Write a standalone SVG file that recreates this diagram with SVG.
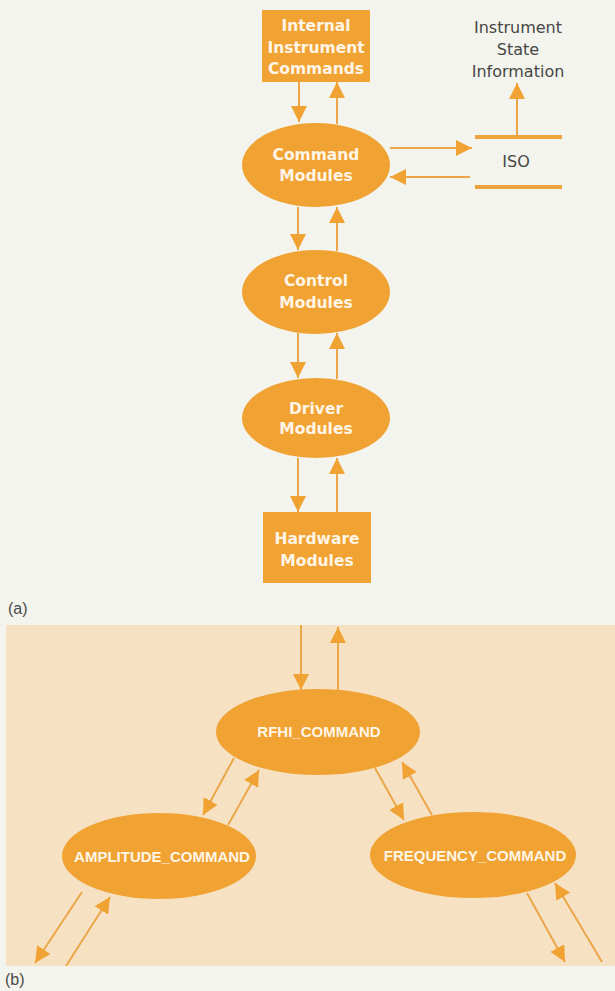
<svg xmlns="http://www.w3.org/2000/svg" width="615" height="991" viewBox="0 0 615 991">
<defs>
<style>
.node{fill:#f0a232;}
.nt{fill:#fff5e6;font-family:"DejaVu Sans",sans-serif;font-weight:bold;font-size:15.5px;text-anchor:middle;}
.nb{fill:#fff5e6;font-family:"Liberation Sans",Arial,sans-serif;font-weight:bold;font-size:15px;text-anchor:middle;}
.lbl{fill:#464644;font-family:"DejaVu Sans",sans-serif;font-size:16px;text-anchor:middle;}
.cap{fill:#4a4a48;font-family:"Liberation Sans",Arial,sans-serif;font-size:16px;}
.c{stroke:#eca64a;stroke-width:2;fill:none;marker-end:url(#ah);}
.iso{stroke:#eda43e;stroke-width:4;}
</style>
<marker id="ah" markerUnits="userSpaceOnUse" markerWidth="16" markerHeight="16" refX="16" refY="8" orient="auto" viewBox="0 0 16 16">
<path d="M0,0 L16,8 L0,16 z" fill="#f0a232"/>
</marker>
</defs>
<rect x="0" y="0" width="615" height="991" fill="#f4f4ee"/>
<rect x="6" y="625" width="609" height="341" fill="#f6e1c2"/>

<g id="connectors">
<line class="c" x1="299" y1="82" x2="299" y2="122"/>
<line class="c" x1="337" y1="124" x2="337" y2="82"/>
<line class="c" x1="390" y1="148" x2="472" y2="148"/>
<line class="c" x1="470" y1="177" x2="390" y2="177"/>
<line class="c" x1="517" y1="137" x2="517" y2="83"/>
<line class="c" x1="298" y1="207" x2="298" y2="250"/>
<line class="c" x1="337" y1="251" x2="337" y2="207"/>
<line class="c" x1="298" y1="333" x2="298" y2="378"/>
<line class="c" x1="337" y1="379" x2="337" y2="333"/>
<line class="c" x1="298" y1="458" x2="298" y2="512"/>
<line class="c" x1="337" y1="512" x2="337" y2="458"/>
<line class="c" x1="301" y1="625" x2="301" y2="690"/>
<line class="c" x1="338" y1="691" x2="338" y2="627"/>
<line class="c" x1="234" y1="758" x2="203" y2="815"/>
<line class="c" x1="228" y1="825" x2="259" y2="770"/>
<line class="c" x1="375" y1="768" x2="404" y2="820"/>
<line class="c" x1="432" y1="815" x2="402" y2="762"/>
<line class="c" x1="82" y1="892" x2="35" y2="963"/>
<line class="c" x1="66" y1="966" x2="110" y2="897"/>
<line class="c" x1="527" y1="893" x2="565" y2="962"/>
<line class="c" x1="602" y1="962" x2="555" y2="883"/>
</g>

<g id="iso">
<line class="iso" x1="475" y1="137" x2="562" y2="137"/>
<line class="iso" x1="475" y1="187" x2="562" y2="187"/>
<text class="lbl" x="516" y="167" font-size="17px">ISO</text>
</g>

<g id="state-info">
<text class="lbl" x="518" y="33">Instrument</text>
<text class="lbl" x="518" y="55">State</text>
<text class="lbl" x="518" y="77">Information</text>
</g>

<g id="internal-commands">
<rect class="node" x="262" y="10" width="108" height="72"/>
<text class="nt" x="316" y="31">Internal</text>
<text class="nt" x="316" y="53">Instrument</text>
<text class="nt" x="316" y="74">Commands</text>
</g>

<g id="command-modules">
<ellipse class="node" cx="316" cy="165" rx="74" ry="42"/>
<text class="nt" x="316" y="160">Command</text>
<text class="nt" x="316" y="181">Modules</text>
</g>

<g id="control-modules">
<ellipse class="node" cx="316" cy="292" rx="74" ry="42"/>
<text class="nt" x="316" y="286">Control</text>
<text class="nt" x="316" y="308">Modules</text>
</g>

<g id="driver-modules">
<ellipse class="node" cx="316" cy="418" rx="74" ry="40"/>
<text class="nt" x="316" y="414">Driver</text>
<text class="nt" x="316" y="434">Modules</text>
</g>

<g id="hardware-modules">
<rect class="node" x="263" y="512" width="108" height="71"/>
<text class="nt" x="317" y="544">Hardware</text>
<text class="nt" x="317" y="566">Modules</text>
</g>

<g id="rfhi-command">
<ellipse class="node" cx="318" cy="732" rx="102" ry="43"/>
<text class="nb" x="319" y="737">RFHI_COMMAND</text>
</g>

<g id="amplitude-command">
<ellipse class="node" cx="159" cy="856" rx="97" ry="43"/>
<text class="nb" x="162" y="862">AMPLITUDE_COMMAND</text>
</g>

<g id="frequency-command">
<ellipse class="node" cx="473" cy="855" rx="103" ry="43"/>
<text class="nb" x="475" y="861" font-size="15.5px">FREQUENCY_COMMAND</text>
</g>

<text class="cap" x="8" y="614">(a)</text>
<text class="cap" x="5" y="985">(b)</text>
</svg>
